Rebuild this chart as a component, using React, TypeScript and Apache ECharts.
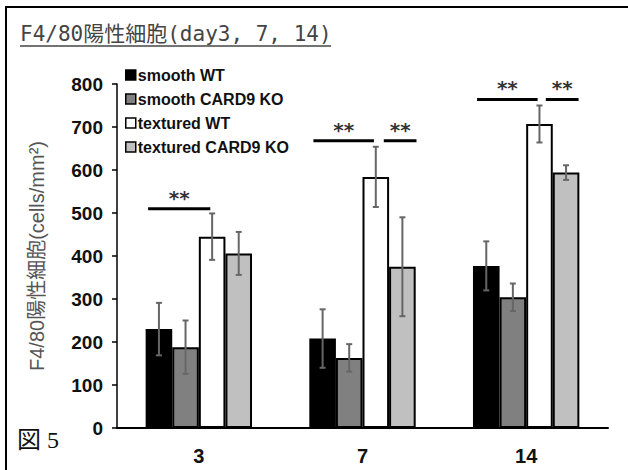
import React, { useEffect, useRef } from "react";
import * as echarts from "echarts";

const categories = ["3", "7", "14"];
const seriesNames = ["smooth WT", "smooth CARD9 KO", "textured WT", "textured CARD9 KO"];
const smoothWT = [230, 208, 377];
const smoothKO = [188, 163, 304];
const texturedWT = [445, 584, 707];
const texturedKO = [406, 375, 594];
const smoothWTErr = [61, 68, 57];
const smoothKOErr = [62, 32, 32];
const texturedWTErr = [54, 70, 43];
const texturedKOErr = [50, 115, 17];
const yTicks = [0, 100, 200, 300, 400, 500, 600, 700, 800];
// significance brackets: [start (category units from axis start), end, y value, label]
const sigBrackets: [number, number, number, string][] = [
  [0.19, 0.57, 510, "**"],
  [1.2, 1.57, 668, "**"],
  [1.63, 1.83, 668, "**"],
  [2.2, 2.57, 764, "**"],
  [2.62, 2.82, 764, "**"],
];
const titleText = "F4/80陽性細胞(day3, 7, 14)";
const yName = "F4/80陽性細胞(cells/mm²)";
const figLabel = "図 5";

const colors = ["#000000", "#808080", "#ffffff", "#c0c0c0"];
const CAT_GAP = 0.35;

export default function App() {
  const ref = useRef<HTMLDivElement>(null);
  useEffect(() => {
    if (!ref.current) return;
    const chart = echarts.init(ref.current, null, { renderer: "svg" });
    const means = [smoothWT, smoothKO, texturedWT, texturedKO];
    const errs = [smoothWTErr, smoothKOErr, texturedWTErr, texturedKOErr];
    const errData: number[][] = [];
    means.forEach((arr, s) => arr.forEach((m, i) => errData.push([i, m, errs[s][i], s])));

    const barSeries = seriesNames.map((name, s) => ({
      name,
      type: "bar",
      data: means[s],
      barGap: "0%",
      barCategoryGap: (CAT_GAP * 100) + "%",
      itemStyle: { color: colors[s], borderColor: "#000", borderWidth: 2 },
      z: 2,
    }));

    const option: any = {
      animation: false,
      backgroundColor: "#fff",
      grid: { left: 117, right: 20, top: 84, bottom: 42 },
      legend: {
        orient: "vertical",
        left: 120,
        top: 62,
        itemWidth: 10,
        itemHeight: 10,
        itemGap: 8,
        icon: "rect",
        itemStyle: { borderColor: "#000", borderWidth: 1.5 },
        textStyle: { fontFamily: "Liberation Sans", fontWeight: "bold", fontSize: 16, color: "#111", padding: [0, 0, 0, -3] },
        data: seriesNames,
      },
      xAxis: {
        type: "category",
        data: categories,
        axisLine: { lineStyle: { color: "#000", width: 2 } },
        axisTick: { length: 6, lineStyle: { color: "#000", width: 2 } },
        axisLabel: { fontFamily: "Liberation Sans", fontWeight: "bold", fontSize: 20, color: "#111", margin: 18 },
      },
      yAxis: {
        type: "value",
        min: 0,
        max: 800,
        interval: 100,
        name: yName,
        nameLocation: "middle",
        nameGap: 70,
        nameTextStyle: { fontFamily: "Liberation Sans, Noto Sans CJK JP", fontSize: 20, color: "#555" },
        axisLine: { show: true, lineStyle: { color: "#000", width: 1.5 } },
        axisTick: { show: true, length: 5, lineStyle: { color: "#000", width: 1.5 } },
        splitLine: { show: false },
        axisLabel: {
          fontFamily: "Liberation Sans",
          fontWeight: "bold",
          fontSize: 19,
          color: "#111",
          margin: 14,
          formatter: (v: number) => (yTicks.includes(v) ? String(v) : ""),
        },
      },
      series: [
        ...barSeries,
        {
          type: "custom",
          name: "err",
          data: errData,
          z: 5,
          renderItem: (params: any, api: any) => {
            const cat = api.value(0);
            const m = api.value(1);
            const e = api.value(2);
            const s = api.value(3);
            const band = api.size([1, 0])[0];
            const bw = (band * (1 - CAT_GAP)) / 4;
            const cx = api.coord([cat, m])[0] + (s - 1.5) * bw;
            const top = api.coord([cat, m + e])[1];
            const bot = api.coord([cat, m - e])[1];
            const st = { stroke: "#666", lineWidth: 2 };
            return {
              type: "group",
              children: [
                { type: "line", shape: { x1: cx, y1: top, x2: cx, y2: bot }, style: st },
                { type: "line", shape: { x1: cx - 3, y1: top, x2: cx + 3, y2: top }, style: st },
                { type: "line", shape: { x1: cx - 3, y1: bot, x2: cx + 3, y2: bot }, style: st },
              ],
            };
          },
        },
        {
          type: "custom",
          name: "sig",
          data: sigBrackets.map((b) => [b[0], b[1], b[2]]),
          z: 6,
          renderItem: (params: any, api: any) => {
            const a = api.value(0);
            const b = api.value(1);
            const y = api.value(2);
            const band = api.size([1, 0])[0];
            const x0 = api.coord([0, y])[0] - band / 2;
            const py = api.coord([0, y])[1];
            const xa = x0 + a * band;
            const xb = x0 + b * band;
            return {
              type: "group",
              children: [
                { type: "line", shape: { x1: xa, y1: py, x2: xb, y2: py }, style: { stroke: "#000", lineWidth: 3 } },
                {
                  type: "text",
                  style: {
                    text: sigBrackets[params.dataIndex][3],
                    x: (xa + xb) / 2,
                    y: py - 1,
                    align: "center",
                    verticalAlign: "bottom",
                    fontFamily: "DejaVu Sans",
                    fontWeight: "bold",
                    fontSize: 20,
                    fill: "#333",
                  },
                },
              ],
            };
          },
        },
      ],
      graphic: [
        {
          type: "rect",
          shape: { x: 6, y: 7, width: 700, height: 600 },
          style: { fill: "none", stroke: "#000", lineWidth: 2 },
          silent: true,
        },
        {
          type: "text",
          x: 20,
          y: 44,
          style: {
            text: titleText,
            fontFamily: "'DejaVu Sans Mono', 'Noto Sans CJK JP'",
            fontSize: 21,
            fill: "#444",
            verticalAlign: "bottom",
          },
        },
        {
          type: "line",
          shape: { x1: 20, y1: 46, x2: 331, y2: 46 },
          style: { stroke: "#444", lineWidth: 1.5 },
        },
        {
          type: "text",
          x: 17,
          y: 440,
          style: {
            text: figLabel,
            fontFamily: "'Liberation Serif', 'DejaVu Serif', 'Noto Sans CJK JP', serif",
            fontSize: 24,
            fill: "#111",
            verticalAlign: "middle",
          },
        },
      ],
    };
    chart.setOption(option);
    return () => chart.dispose();
  }, []);
  return <div ref={ref} style={{ position: "fixed", left: 0, top: 0, width: 628, height: 470 }} />;
}
